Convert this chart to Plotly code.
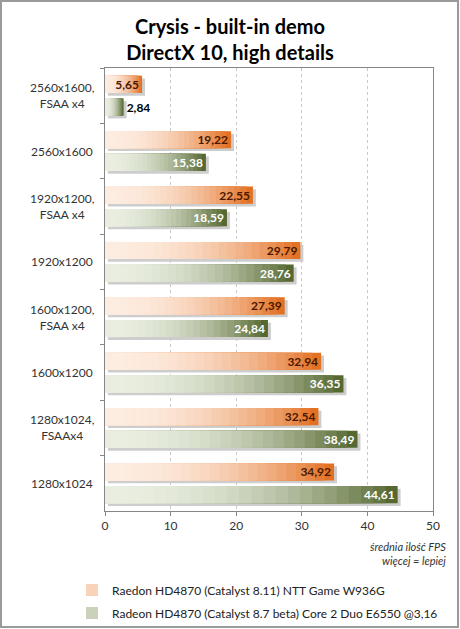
import plotly.graph_objects as go

categories = ["2560x1600,<br>FSAA x4", "2560x1600", "1920x1200,<br>FSAA x4", "1920x1200",
              "1600x1200,<br>FSAA x4", "1600x1200", "1280x1024,<br>FSAAx4", "1280x1024"]
series_names = ["Raedon HD4870 (Catalyst 8.11) NTT Game W936G",
                "Radeon HD4870 (Catalyst 8.7 beta) Core 2 Duo E6550 @3,16"]
orange_vals = [5.65, 19.22, 22.55, 29.79, 27.39, 32.94, 32.54, 34.92]
green_vals = [2.84, 15.38, 18.59, 28.76, 24.84, 36.35, 38.49, 44.61]
x_ticks = [0, 10, 20, 30, 40, 50]

FONT = "Lato"
L, R, T, B = 105, 27, 68, 118
W, H = 460, 629
PW, PH = W - L - R, H - T - B

def lerp(c1, c2, t):
    return "rgb(%d,%d,%d)" % tuple(round(a + (b - a) * t) for a, b in zip(c1, c2))

styles = [
    dict(vals=orange_vals, light=(253, 236, 224), dark=(226, 107, 26), offset=-0.36,
         inside="#4a1800", outside="#000000", legend="legend"),
    dict(vals=green_vals, light=(233, 238, 224), dark=(79, 98, 40), offset=0.05,
         inside="#ffffff", outside="#000000", legend="legend2"),
]
BW = 0.31
N = 24

fig = go.Figure()
for si, st in enumerate(styles):
    # shadow
    fig.add_trace(go.Bar(y=categories, x=st["vals"], base=0.45, orientation="h",
                         width=BW, offset=st["offset"] + 0.05, opacity=1,
                         marker=dict(color="rgb(205,205,205)", opacity=1, line=dict(width=0)),
                         showlegend=False, hoverinfo="skip"))
    for k in range(N):
        frac = (N - k) / N
        p = (N - k - 0.5) / N
        col = lerp(st["light"], st["dark"], p ** 2.2)
        fig.add_trace(go.Bar(y=categories, x=[v * frac for v in st["vals"]], orientation="h",
                             width=BW, offset=st["offset"], opacity=1,
                             marker=dict(color=col, opacity=1, line=dict(width=0)),
                             name=series_names[si], legend=st["legend"],
                             showlegend=(k == N // 2), hoverinfo="skip"))
for si, st in enumerate(styles):
    fig.add_trace(go.Bar(y=categories, x=st["vals"], orientation="h", width=BW, offset=st["offset"],
                         marker=dict(color="rgba(0,0,0,0)", line=dict(width=0)),
                         texttemplate="%{x:.2f}", textposition="auto", insidetextanchor="end",
                         textangle=0, constraintext="none",
                         insidetextfont=dict(family=FONT, size=12, color=st["inside"], weight="bold"),
                         outsidetextfont=dict(family=FONT, size=12, color=st["outside"], weight="bold"),
                         showlegend=False, cliponaxis=False, hoverinfo="skip"))

for c in categories:
    fig.add_annotation(x=-0.13, xref="paper", y=c, yref="y", text=c, showarrow=False,
                       align="center", xanchor="center", yanchor="middle",
                       font=dict(family=FONT, size=12, color="#333333"))

fig.add_annotation(x=(448 - L) / PW, xref="paper", y=(T + PH - 538) / PH, yref="paper",
                   text="<i>średnia ilość FPS</i><br><i>więcej = lepiej</i>", showarrow=False,
                   align="right", xanchor="right", yanchor="top",
                   font=dict(family=FONT, size=11, color="#333333"))

fig.add_shape(type="rect", xref="paper", yref="paper",
              x0=(1 - L) / PW, x1=(W - 2 - L) / PW, y0=(T + PH - (H - 2)) / PH, y1=(T + PH - 1) / PH,
              line=dict(color="#9a9a9a", width=2), layer="below")

fig.update_layout(
    width=W, height=H, margin=dict(l=L, r=R, t=T, b=B, autoexpand=False),
    paper_bgcolor="white", plot_bgcolor="white",
    barmode="overlay", separators=", ",
    title=dict(text="<b>Crysis - built-in demo<br>DirectX 10, high details</b>", x=0.5, xref="container",
               xanchor="center", y=1 - 34 / H, yanchor="middle",
               font=dict(family=FONT, size=20, color="#000000")),
    xaxis=dict(range=[0, 50], tickvals=x_ticks, showgrid=True, gridcolor="#c8c8c8", griddash="dot",
               showline=True, linecolor="#868686", mirror=True, ticks="outside", ticklen=4,
               tickcolor="#868686", tickfont=dict(family=FONT, size=12, color="#333333"),
               zeroline=False, fixedrange=True),
    yaxis=dict(type="category", categoryorder="array", categoryarray=categories,
               range=[7.5, -0.5], showticklabels=False, tickson="boundaries", ticks="outside",
               ticklen=4, tickcolor="#868686", showline=True, linecolor="#868686", mirror=True,
               showgrid=False, zeroline=False, fixedrange=True),
    legend=dict(x=(72 - L) / PW, y=(T + PH - 590) / PH, xanchor="left", yanchor="middle",
                font=dict(family=FONT, size=12, color="#222222"), bgcolor="rgba(0,0,0,0)"),
    legend2=dict(x=(72 - L) / PW, y=(T + PH - 613) / PH, xanchor="left", yanchor="middle",
                 font=dict(family=FONT, size=12, color="#222222"), bgcolor="rgba(0,0,0,0)"),
    showlegend=True,
)

fig.write_html("out.html", config={"displayModeBar": False},
               post_script="document.body.style.margin='0';document.body.style.overflow='hidden';")
